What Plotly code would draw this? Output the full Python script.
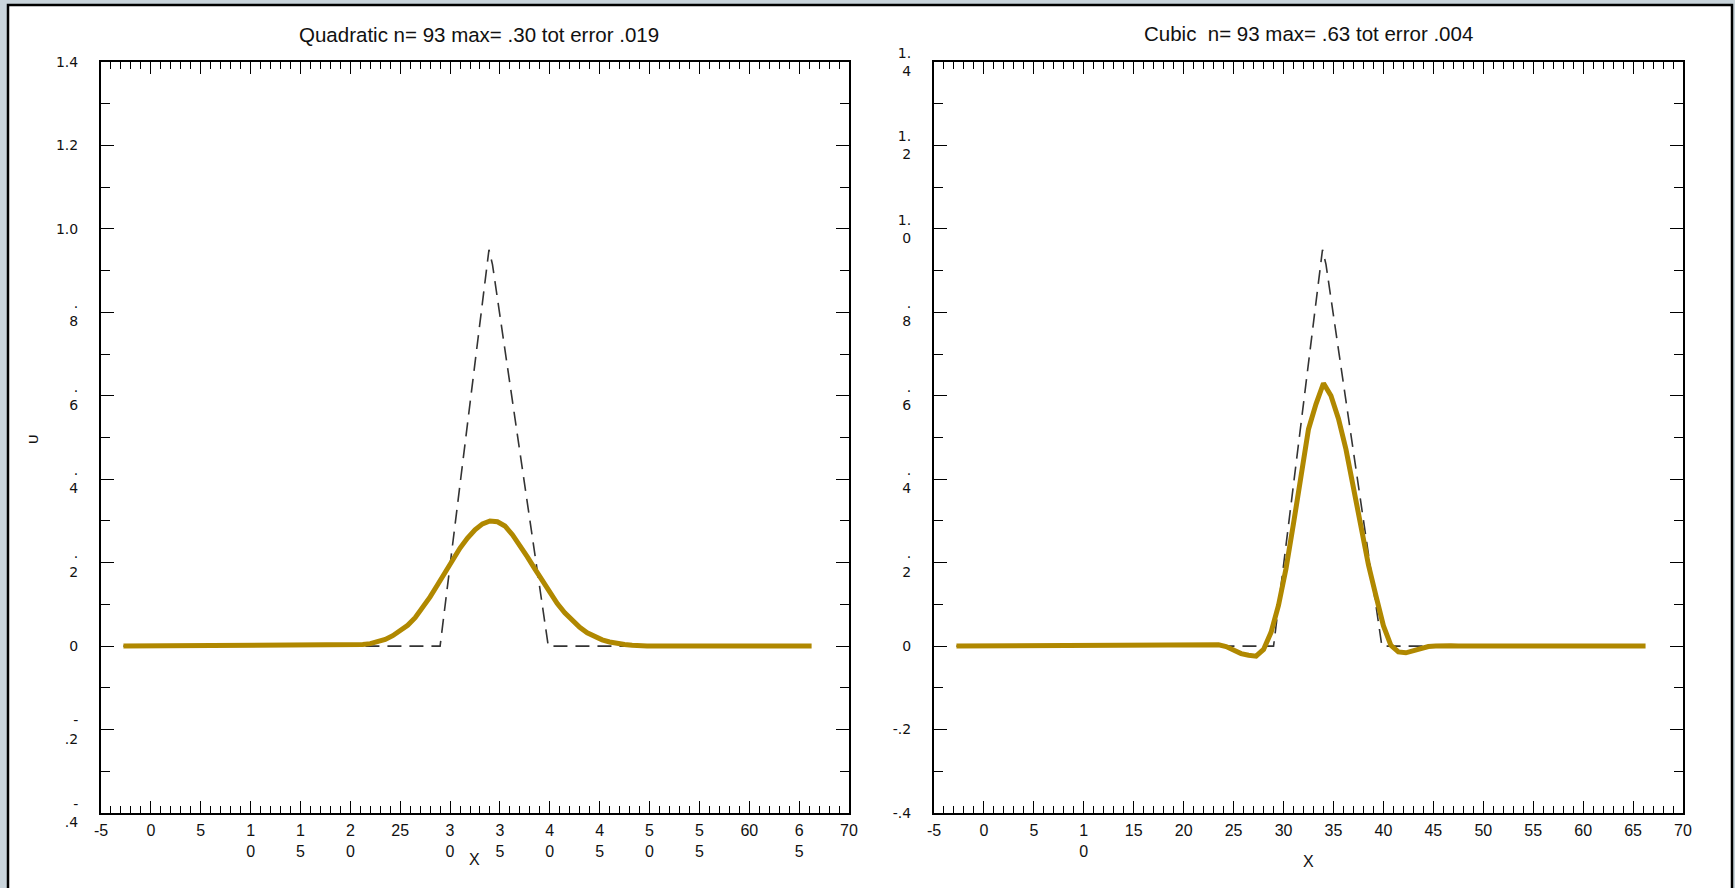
import plotly.graph_objects as go

# ---------------- data ----------------
X_NUM = [-2.75, 19.75, 20.5, 21.25, 22.0, 22.75, 23.5, 24.25, 25.0, 25.75, 26.5,
         27.25, 28.0, 28.75, 29.5, 30.25, 31.0, 31.75, 32.5, 33.25, 34.0, 34.75,
         35.5, 36.25, 37.0, 37.75, 38.5, 39.25, 40.0, 40.75, 41.5, 42.25, 43.0,
         43.75, 44.5, 45.25, 46.0, 46.75, 47.5, 48.25, 49.0, 49.75, 66.25]

U_QUADRATIC = [0.0, 0.001, 0.002, 0.004, 0.006, 0.010, 0.016, 0.025, 0.036, 0.050, 0.068,
               0.091, 0.118, 0.147, 0.177, 0.208, 0.235, 0.259, 0.279, 0.293, 0.300, 0.298,
               0.288, 0.267, 0.242, 0.214, 0.185, 0.156, 0.128, 0.102, 0.080, 0.061, 0.045,
               0.032, 0.022, 0.015, 0.010, 0.006, 0.004, 0.002, 0.001, 0.0, 0.0]

U_CUBIC = [0.0, 0.0, 0.0, 0.001, 0.002, 0.003, 0.003, -0.001, -0.009, -0.018, -0.022,
           -0.024, -0.008, 0.033, 0.098, 0.186, 0.294, 0.414, 0.520, 0.580, 0.630, 0.600,
           0.545, 0.472, 0.380, 0.280, 0.195, 0.121, 0.049, 0.002, -0.014, -0.016, -0.011,
           -0.005, -0.001, 0.0, 0.001, 0.001, 0.0, 0.0, 0.0, 0.0, 0.0]

X_EXACT = [-2.75, 29.0, 33.9, 34.25, 39.85, 66.25]
U_EXACT = [0.0, 0.0, 0.95, 0.915, 0.0, 0.0]

X_TICKS = [-5, 0, 5, 10, 15, 20, 25, 30, 35, 40, 45, 50, 55, 60, 65, 70]
X_TEXT_QUAD = ["-5", "0", "5", "1<br>0", "1<br>5", "2<br>0", "25", "3<br>0", "3<br>5",
               "4<br>0", "4<br>5", "5<br>0", "5<br>5", "60", "6<br>5", "70"]
X_TEXT_CUBIC = ["-5", "0", "5", "1<br>0", "15", "20", "25", "30", "35", "40", "45",
                "50", "55", "60", "65", "70"]

Y_TICKS = [-0.4, -0.2, 0.0, 0.2, 0.4, 0.6, 0.8, 1.0, 1.2, 1.4]
Y_TEXT_QUAD = ["-<br>.4", "-<br>.2", "0", ".<br>2", ".<br>4", ".<br>6", ".<br>8",
               "1.0", "1.2", "1.4"]
Y_TEXT_CUBIC = ["-.4", "-.2", "0", ".<br>2", ".<br>4", ".<br>6", ".<br>8",
                "1.<br>0", "1.<br>2", "1.<br>4"]

TITLE_QUAD = "Quadratic n= 93 max= .30 tot error .019"
TITLE_CUBIC = "Cubic  n= 93 max= .63 tot error .004"

# ---------------- styling ----------------
W, H = 1735, 888
GOLD = "#b08800"
DASH = "#333333"
SANS = "Liberation Sans, Arial, sans-serif"
WIDE = "DejaVu Sans, Verdana, sans-serif"
TICK_FONT_X = dict(family=SANS, size=16, color="#111")
TICK_FONT_Y = dict(family=WIDE, size=14, color="#111")

fig = go.Figure()

for xa, ya, u in [("x", "y", U_QUADRATIC), ("x2", "y2", U_CUBIC)]:
    fig.add_trace(go.Scatter(x=X_EXACT, y=U_EXACT, mode="lines", xaxis=xa, yaxis=ya,
                             line=dict(color=DASH, width=1.6, dash="14px,8px"),
                             showlegend=False, hoverinfo="skip"))
    fig.add_trace(go.Scatter(x=X_NUM, y=u, mode="lines", xaxis=xa, yaxis=ya,
                             line=dict(color=GOLD, width=5), showlegend=False))

common_x = dict(range=[-5, 70], showline=True, linecolor="black", linewidth=2,
                mirror="allticks", ticks="inside", ticklen=12, tickwidth=1.4,
                tickcolor="black", showgrid=False, zeroline=False,
                tickmode="array", tickvals=X_TICKS, tickfont=TICK_FONT_X,
                ticklabelstandoff=2,
                minor=dict(ticks="inside", ticklen=7, tickwidth=1.1, tickcolor="black",
                           dtick=1, tick0=0, showgrid=False))
common_y = dict(range=[-0.4, 1.4], showline=True, linecolor="black", linewidth=2,
                mirror="allticks", ticks="inside", ticklen=13, tickwidth=1.4,
                tickcolor="black", showgrid=False, zeroline=False,
                tickmode="array", tickvals=Y_TICKS, tickfont=TICK_FONT_Y,
                ticklabelstandoff=18,
                minor=dict(ticks="inside", ticklen=9, tickwidth=1.1, tickcolor="black",
                           dtick=0.1, tick0=0, showgrid=False))

ydom = [1 - 813 / H, 1 - 62 / H]
fig.update_layout(
    width=W, height=H,
    margin=dict(l=0, r=0, t=0, b=0, autoexpand=False),
    paper_bgcolor="#c9d4db", plot_bgcolor="white",
    xaxis=dict(domain=[101 / W, 849 / W], anchor="y", ticktext=X_TEXT_QUAD, **common_x),
    yaxis=dict(domain=ydom, anchor="x", ticktext=Y_TEXT_QUAD, **common_y),
    xaxis2=dict(domain=[934 / W, 1683 / W], anchor="y2", ticktext=X_TEXT_CUBIC, **common_x),
    yaxis2=dict(domain=ydom, anchor="x2", ticktext=Y_TEXT_CUBIC, **common_y),
    shapes=[dict(type="rect", xref="paper", yref="paper", layer="below",
                 x0=8 / W, x1=1732 / W, y0=-0.05, y1=1 - 5 / H,
                 fillcolor="white", line=dict(color="black", width=2.5))],
    annotations=[
        dict(text=TITLE_QUAD, xref="paper", yref="paper", x=(101 + 849) / 2 / W + 4 / W,
             y=1 - 35 / H, xanchor="center", yanchor="middle", showarrow=False,
             font=dict(family=SANS, size=20.5, color="#111")),
        dict(text=TITLE_CUBIC, xref="paper", yref="paper", x=(934 + 1683) / 2 / W,
             y=1 - 33 / H, xanchor="center", yanchor="middle", showarrow=False,
             font=dict(family=SANS, size=20.5, color="#111")),
        dict(text="X", xref="paper", yref="paper", x=(101 + 849) / 2 / W,
             y=1 - 859 / H, xanchor="center", yanchor="middle", showarrow=False,
             font=dict(family=SANS, size=16, color="#111")),
        dict(text="X", xref="paper", yref="paper", x=(934 + 1683) / 2 / W,
             y=1 - 861 / H, xanchor="center", yanchor="middle", showarrow=False,
             font=dict(family=SANS, size=16, color="#111")),
        dict(text="U", xref="paper", yref="paper", x=33 / W, y=1 - 439 / H,
             xanchor="center", yanchor="middle", showarrow=False, textangle=-90,
             font=dict(family=WIDE, size=13, color="#111")),
    ],
)

fig.write_html(
    "out.html",
    config={"displayModeBar": False},
    post_script="document.body.style.margin='0';document.body.style.overflow='hidden';",
)
